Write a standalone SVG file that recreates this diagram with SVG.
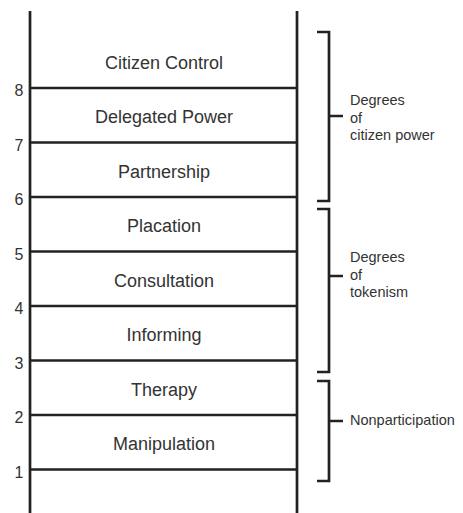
<svg xmlns="http://www.w3.org/2000/svg" width="463" height="513" viewBox="0 0 463 513">
<style>
.ln{stroke:#222;stroke-width:2.7;fill:none;stroke-linecap:butt}
.lbl{font-family:"Liberation Sans",Arial,sans-serif;font-size:18px;fill:#333;text-anchor:middle}
.num{font-family:"Liberation Sans",Arial,sans-serif;font-size:16px;fill:#333;text-anchor:middle}
.brk{font-family:"Liberation Sans",Arial,sans-serif;font-size:14.5px;fill:#333}
</style>
<rect width="463" height="513" fill="#fff"/>
<g id="connectors">
<line class="ln" x1="30" y1="11" x2="30" y2="513"/>
<line class="ln" x1="297" y1="11" x2="297" y2="513"/>
<line class="ln" x1="30" y1="88" x2="297" y2="88"/>
<line class="ln" x1="30" y1="142.5" x2="297" y2="142.5"/>
<line class="ln" x1="30" y1="197" x2="297" y2="197"/>
<line class="ln" x1="30" y1="251.5" x2="297" y2="251.5"/>
<line class="ln" x1="30" y1="306" x2="297" y2="306"/>
<line class="ln" x1="30" y1="360.5" x2="297" y2="360.5"/>
<line class="ln" x1="30" y1="415" x2="297" y2="415"/>
<line class="ln" x1="30" y1="469.5" x2="297" y2="469.5"/>
</g>
<g id="rung-numbers">
<text class="num" x="19" y="96">8</text>
<text class="num" x="19" y="150.5">7</text>
<text class="num" x="19" y="205">6</text>
<text class="num" x="19" y="259.5">5</text>
<text class="num" x="19" y="314">4</text>
<text class="num" x="19" y="368.5">3</text>
<text class="num" x="19" y="423">2</text>
<text class="num" x="19" y="477.5">1</text>
</g>
<g id="citizen-control"><text class="lbl" x="164" y="69">Citizen Control</text></g>
<g id="delegated-power"><text class="lbl" x="164" y="123">Delegated Power</text></g>
<g id="partnership"><text class="lbl" x="164" y="178">Partnership</text></g>
<g id="placation"><text class="lbl" x="164" y="232">Placation</text></g>
<g id="consultation"><text class="lbl" x="164" y="287">Consultation</text></g>
<g id="informing"><text class="lbl" x="164" y="341">Informing</text></g>
<g id="therapy"><text class="lbl" x="164" y="396">Therapy</text></g>
<g id="manipulation"><text class="lbl" x="164" y="450">Manipulation</text></g>
<g id="citizen-power">
<path class="ln" d="M317 32H329V201H317M329 116H343"/>
<text class="brk" x="350" y="105">Degrees</text>
<text class="brk" x="350" y="122.5">of</text>
<text class="brk" x="350" y="140">citizen power</text>
</g>
<g id="tokenism">
<path class="ln" d="M317 209H329V372H317M329 276H343"/>
<text class="brk" x="350" y="262">Degrees</text>
<text class="brk" x="350" y="279.5">of</text>
<text class="brk" x="350" y="297">tokenism</text>
</g>
<g id="nonparticipation">
<path class="ln" d="M317 381H329V481H317M329 421H343"/>
<text class="brk" x="350" y="425">Nonparticipation</text>
</g>
</svg>
